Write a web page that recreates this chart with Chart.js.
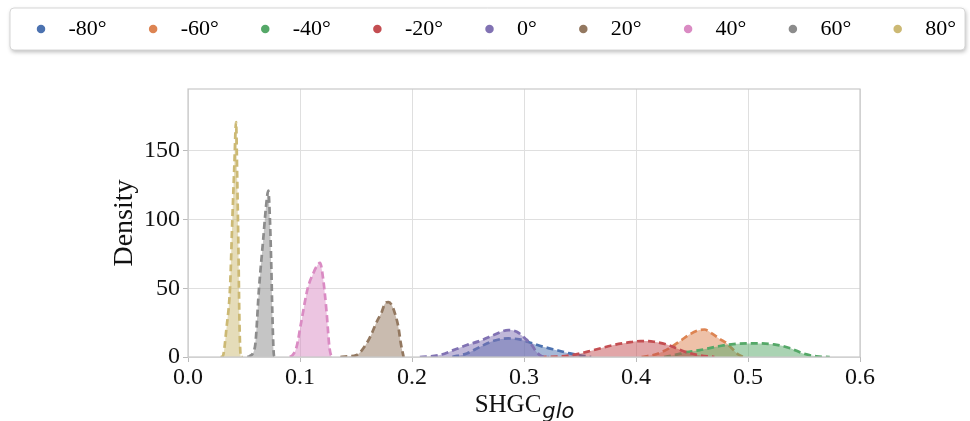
<!DOCTYPE html>
<html>
<head>
<meta charset="utf-8">
<script src="https://cdn.jsdelivr.net/npm/chart.js@4"></script>
<style>
body { margin: 0; background: #fff; }
</style>
</head>
<body>
<canvas id="kdeChart" width="970" height="421"></canvas>
<script>
// legend labels and colours
var angles = ['-80°', '-60°', '-40°', '-20°', '0°', '20°', '40°', '60°', '80°'];
var colors = ['#4c72b0', '#dd8452', '#55a868', '#c44e52', '#8172b3', '#937860', '#da8bc3', '#8c8c8c', '#ccb974'];

// density curves (x = SHGC, y = density)
var m80X = [0.236, 0.249, 0.261, 0.273, 0.286, 0.296, 0.305, 0.317, 0.329, 0.341, 0.350, 0.360];
var m80Y = [0, 2.6, 7.5, 11.8, 13.5, 12.8, 10.6, 7.5, 5, 2.6, 1.2, 0];
var m60X = [0.405, 0.418, 0.430, 0.440, 0.448, 0.455, 0.461, 0.468, 0.475, 0.481, 0.486, 0.491, 0.496];
var m60Y = [0, 2, 6.5, 12, 16.5, 19.2, 20, 17, 13, 10, 6, 2, 0];
var m40X = [0.425, 0.435, 0.445, 0.457, 0.475, 0.487, 0.505, 0.523, 0.538, 0.549, 0.561, 0.573];
var m40Y = [0, 1.5, 3.5, 5, 8, 9.4, 9.9, 9.2, 6.3, 2.6, 0.5, 0];
var m20X = [0.314, 0.332, 0.344, 0.362, 0.380, 0.392, 0.404, 0.416, 0.427, 0.436, 0.445, 0.455, 0.470];
var m20Y = [0, 0.3, 1.5, 5, 8.7, 10.4, 11.6, 11.1, 9.2, 6.3, 3.5, 1.5, 0];
var p0X = [0.207, 0.225, 0.237, 0.249, 0.261, 0.273, 0.286, 0.2935, 0.301, 0.307, 0.311, 0.316, 0.322];
var p0Y = [0, 1.5, 5, 8.7, 11.8, 16, 19.6, 18.4, 13.5, 8.7, 3.8, 0.6, 0];
var p20X = [0.136, 0.140, 0.1506, 0.1595, 0.164, 0.1685, 0.173, 0.1759, 0.179, 0.182, 0.1848, 0.1878, 0.190, 0.1925];
var p20Y = [0, 0.3, 1.5, 10, 17, 25.6, 32.8, 39, 40, 37.7, 31.6, 22, 10, 0];
var p40X = [0.091, 0.0935, 0.097, 0.101, 0.1069, 0.1119, 0.1149, 0.1179, 0.1208, 0.1238, 0.1262, 0.1278, 0.129];
var p40Y = [0, 1.5, 7.5, 25, 50, 61, 66, 68.5, 56, 32, 7.5, 1, 0];
var p60X = [0.053, 0.0547, 0.0598, 0.0634, 0.0673, 0.0696, 0.0717, 0.0732, 0.0744, 0.0753, 0.0765, 0.0772, 0.079];
var p60Y = [0, 0.5, 7.5, 50, 87, 109, 121, 99, 65, 32, 3, 0, 0];
var p80X = [0.029, 0.031, 0.0345, 0.0375, 0.0396, 0.0414, 0.0429, 0.0440, 0.0450, 0.0458, 0.0465, 0.0472, 0.049];
var p80Y = [0, 0.5, 22, 50, 100, 140, 171, 128, 80, 32, 8, 0, 0];

var curvesX = [m80X, m60X, m40X, m20X, p0X, p20X, p40X, p60X, p80X];
var curvesY = [m80Y, m60Y, m40Y, m20Y, p0Y, p20Y, p40Y, p60Y, p80Y];

// axis ticks
var xTicks = [0.0, 0.1, 0.2, 0.3, 0.4, 0.5, 0.6];
var yTicks = [0, 50, 100, 150];

var serif = '"Liberation Serif", "Times New Roman", serif';

function alpha(hex, a) {
	var n = parseInt(hex.slice(1), 16);
	return 'rgba(' + (n >> 16) + ',' + ((n >> 8) & 255) + ',' + (n & 255) + ',' + a + ')';
}

var datasets = [];
for (var i = 0; i < angles.length; i++) {
	var pts = [];
	for (var j = 0; j < curvesX[i].length; j++) {
		pts.push({x: curvesX[i][j], y: curvesY[i][j]});
	}
	datasets.push({
		label: angles[i],
		data: pts,
		borderColor: colors[i],
		backgroundColor: alpha(colors[i], 0.5),
		borderWidth: 2.7,
		borderDash: [7, 4],
		fill: 'origin',
		pointRadius: 0,
		cubicInterpolationMode: 'monotone',
		order: -i
	});
}

// leaves room between the legend row and the plot
var legendSpacer = {
	id: 'legendSpacer',
	beforeInit: function(chart) {
		var fit = chart.legend.fit;
		chart.legend.fit = function() {
			fit.call(this);
			this.height = 79;
		};
	}
};

// rounded legend frame, plot frame and the x title with its subscript
var decorations = {
	id: 'decorations',
	beforeDraw: function(chart) {
		var ctx = chart.ctx;
		ctx.save();
		ctx.shadowColor = 'rgba(0,0,0,0.28)';
		ctx.shadowBlur = 4;
		ctx.shadowOffsetX = 1;
		ctx.shadowOffsetY = 2;
		ctx.fillStyle = '#fff';
		ctx.beginPath();
		ctx.roundRect(10, 8, 955, 42, 4);
		ctx.fill();
		ctx.shadowColor = 'transparent';
		ctx.strokeStyle = '#d6d6d6';
		ctx.lineWidth = 1;
		ctx.stroke();
		ctx.restore();
	},
	afterDraw: function(chart) {
		var ctx = chart.ctx;
		var a = chart.chartArea;
		ctx.save();
		ctx.strokeStyle = '#c8c8c8';
		ctx.lineWidth = 1.2;
		ctx.strokeRect(a.left, a.top, a.right - a.left, a.bottom - a.top);

		ctx.fillStyle = '#111';
		ctx.textBaseline = 'alphabetic';
		ctx.font = '25px ' + serif;
		var w1 = ctx.measureText('SHGC').width;
		ctx.font = 'italic 21px "DejaVu Sans"';
		var w2 = ctx.measureText('glo').width;
		var x0 = (a.left + a.right) / 2 - (w1 + w2) / 2;
		ctx.font = '25px ' + serif;
		ctx.fillText('SHGC', x0, 412);
		ctx.font = 'italic 21px "DejaVu Sans"';
		ctx.fillText('glo', x0 + w1 + 1, 418);
		ctx.restore();
	}
};

var ctx = document.getElementById('kdeChart').getContext('2d');
var kdeChart = new Chart(ctx, {
	type: 'line',
	data: {datasets: datasets},
	plugins: [legendSpacer, decorations],
	options: {
		responsive: false,
		animation: false,
		layout: {padding: {left: 16, right: 0, top: 10, bottom: 0}},
		plugins: {
			tooltip: {enabled: false},
			legend: {
				position: 'top',
				labels: {
					usePointStyle: true,
					pointStyle: 'circle',
					boxWidth: 22,
					boxHeight: 6,
					padding: 8,
					color: '#111',
					font: {family: serif, size: 22},
					generateLabels: function(chart) {
						var items = [];
						for (var k = 0; k < angles.length; k++) {
							items.push({
								text: ' ' + angles[k] + (k < angles.length - 1 ? '     ' : ''),
								fillStyle: colors[k],
								strokeStyle: colors[k],
								lineWidth: 0,
								lineDash: [],
								pointStyle: 'circle',
								hidden: false,
								datasetIndex: k
							});
						}
						return items;
					}
				}
			}
		},
		scales: {
			x: {
				type: 'linear',
				min: 0,
				max: 0.6,
				afterBuildTicks: function(scale) {
					scale.ticks = xTicks.map(function(v) { return {value: v}; });
				},
				afterFit: function(scale) { scale.height = 64; },
				grid: {color: '#dfdfdf', tickColor: '#bbbbbb', tickLength: 5},
				border: {display: false},
				ticks: {
					color: '#111',
					padding: 1,
					font: {family: serif, size: 24},
					callback: function(v) { return v.toFixed(1); }
				}
			},
			y: {
				type: 'linear',
				min: 0,
				max: 195,
				afterBuildTicks: function(scale) {
					scale.ticks = yTicks.map(function(v) { return {value: v}; });
				},
				afterFit: function(scale) { scale.width = 172; },
				grid: {color: '#dfdfdf', tickColor: '#bbbbbb', tickLength: 5},
				border: {display: false},
				title: {
					display: true,
					text: 'Density',
					color: '#111',
					font: {family: serif, size: 28},
					padding: {top: 92, bottom: 0}
				},
				ticks: {
					color: '#111',
					padding: 3,
					font: {family: serif, size: 24}
				}
			},
			yRight: {
				type: 'linear',
				position: 'right',
				afterFit: function(scale) { scale.width = 110; },
				grid: {display: false},
				border: {display: false},
				ticks: {display: false}
			}
		}
	}
});
</script>
</body>
</html>
